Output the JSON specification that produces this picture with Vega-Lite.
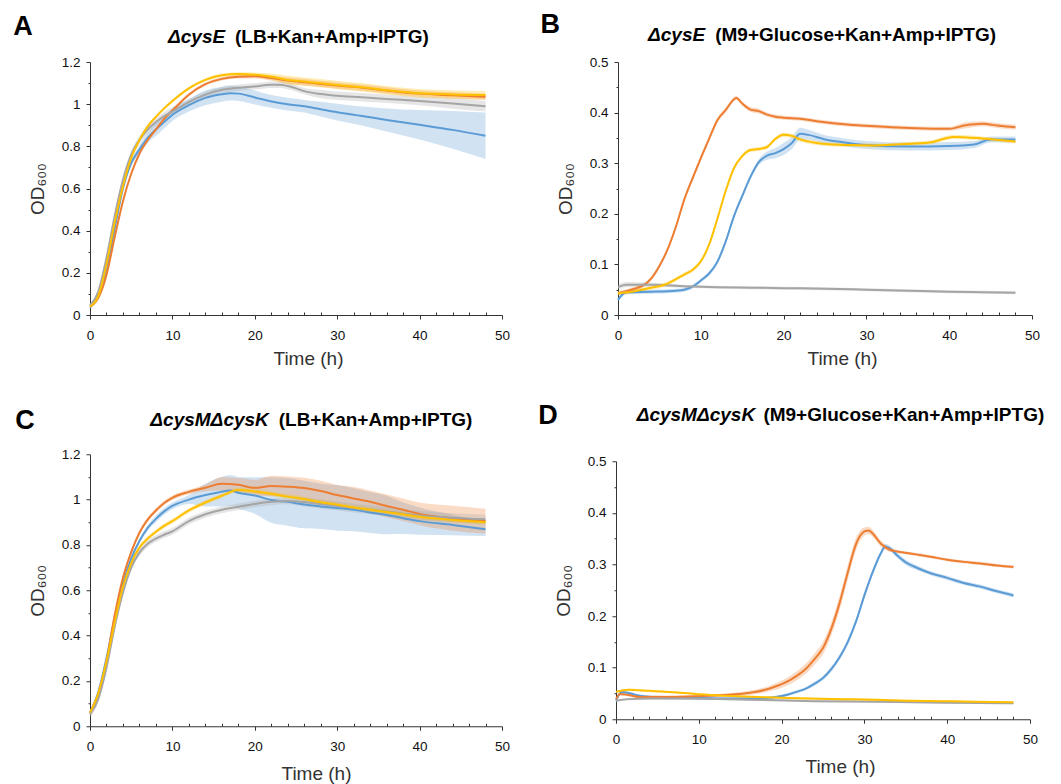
{
  "$schema": "https://vega.github.io/schema/vega-lite/v6.json",
  "background": "white",
  "padding": {"left": 13, "top": 11, "right": 0, "bottom": 0},
  "config": {
    "view": {"stroke": null},
    "font": "Liberation Sans",
    "axis": {
      "grid": false,
      "domainColor": "#333333",
      "tickColor": "#333333",
      "labelColor": "#111111",
      "labelFont": "Liberation Sans",
      "labelFontSize": 13.5,
      "titleFont": "Liberation Sans",
      "titleFontSize": 19,
      "titleFontWeight": "normal",
      "titleColor": "#333333",
      "labelOverlap": false
    },
    "axisX": {"labelPadding": 9, "titlePadding": 8, "labelFlush": false},
    "axisY": {"labelPadding": 6, "titlePadding": 14}
  },
  "datasets": {
    "A": [
      {"s":"S1","t":0,"v":0.035,"e":0.005},{"s":"S1","t":1,"v":0.09,"e":0.008},{"s":"S1","t":2,"v":0.22,"e":0.01},{"s":"S1","t":3,"v":0.41,"e":0.01},{"s":"S1","t":4,"v":0.6,"e":0.012},{"s":"S1","t":5,"v":0.72,"e":0.015},{"s":"S1","t":6,"v":0.785,"e":0.02},{"s":"S1","t":7,"v":0.84,"e":0.025},{"s":"S1","t":8,"v":0.88,"e":0.03},{"s":"S1","t":9,"v":0.915,"e":0.03},{"s":"S1","t":10,"v":0.95,"e":0.03},{"s":"S1","t":12,"v":0.995,"e":0.03},{"s":"S1","t":14,"v":1.03,"e":0.035},{"s":"S1","t":16,"v":1.047,"e":0.035},{"s":"S1","t":17,"v":1.052,"e":0.035},{"s":"S1","t":18,"v":1.05,"e":0.035},{"s":"S1","t":20,"v":1.032,"e":0.033},{"s":"S1","t":22,"v":1.013,"e":0.03},{"s":"S1","t":24,"v":1.0,"e":0.03},{"s":"S1","t":26,"v":0.99,"e":0.03},{"s":"S1","t":28,"v":0.976,"e":0.035},{"s":"S1","t":30,"v":0.962,"e":0.04},{"s":"S1","t":33,"v":0.944,"e":0.045},{"s":"S1","t":36,"v":0.925,"e":0.055},{"s":"S1","t":40,"v":0.902,"e":0.07},{"s":"S1","t":44,"v":0.878,"e":0.09},{"s":"S1","t":48,"v":0.85,"e":0.11},
      {"s":"S2","t":0,"v":0.04,"e":0.005},{"s":"S2","t":1,"v":0.08,"e":0.006},{"s":"S2","t":2,"v":0.19,"e":0.008},{"s":"S2","t":3,"v":0.37,"e":0.008},{"s":"S2","t":4,"v":0.54,"e":0.008},{"s":"S2","t":5,"v":0.67,"e":0.008},{"s":"S2","t":6,"v":0.765,"e":0.008},{"s":"S2","t":7,"v":0.83,"e":0.008},{"s":"S2","t":8,"v":0.88,"e":0.008},{"s":"S2","t":9,"v":0.93,"e":0.008},{"s":"S2","t":10,"v":0.97,"e":0.008},{"s":"S2","t":12,"v":1.045,"e":0.008},{"s":"S2","t":14,"v":1.095,"e":0.008},{"s":"S2","t":16,"v":1.12,"e":0.008},{"s":"S2","t":18,"v":1.13,"e":0.008},{"s":"S2","t":20,"v":1.132,"e":0.01},{"s":"S2","t":22,"v":1.124,"e":0.012},{"s":"S2","t":24,"v":1.112,"e":0.015},{"s":"S2","t":26,"v":1.104,"e":0.015},{"s":"S2","t":28,"v":1.096,"e":0.015},{"s":"S2","t":30,"v":1.088,"e":0.015},{"s":"S2","t":33,"v":1.078,"e":0.015},{"s":"S2","t":36,"v":1.065,"e":0.015},{"s":"S2","t":40,"v":1.05,"e":0.015},{"s":"S2","t":44,"v":1.042,"e":0.015},{"s":"S2","t":48,"v":1.035,"e":0.015},
      {"s":"S3","t":0,"v":0.045,"e":0.01},{"s":"S3","t":1,"v":0.11,"e":0.015},{"s":"S3","t":2,"v":0.27,"e":0.02},{"s":"S3","t":3,"v":0.47,"e":0.02},{"s":"S3","t":4,"v":0.64,"e":0.02},{"s":"S3","t":5,"v":0.76,"e":0.02},{"s":"S3","t":6,"v":0.83,"e":0.02},{"s":"S3","t":7,"v":0.88,"e":0.02},{"s":"S3","t":8,"v":0.915,"e":0.02},{"s":"S3","t":9,"v":0.943,"e":0.02},{"s":"S3","t":10,"v":0.965,"e":0.02},{"s":"S3","t":12,"v":1.01,"e":0.015},{"s":"S3","t":14,"v":1.045,"e":0.015},{"s":"S3","t":16,"v":1.068,"e":0.015},{"s":"S3","t":18,"v":1.078,"e":0.015},{"s":"S3","t":20,"v":1.084,"e":0.015},{"s":"S3","t":22,"v":1.092,"e":0.015},{"s":"S3","t":23,"v":1.092,"e":0.015},{"s":"S3","t":24,"v":1.086,"e":0.015},{"s":"S3","t":25,"v":1.075,"e":0.015},{"s":"S3","t":26,"v":1.062,"e":0.015},{"s":"S3","t":28,"v":1.048,"e":0.02},{"s":"S3","t":30,"v":1.04,"e":0.02},{"s":"S3","t":33,"v":1.033,"e":0.02},{"s":"S3","t":36,"v":1.025,"e":0.02},{"s":"S3","t":40,"v":1.015,"e":0.02},{"s":"S3","t":44,"v":1.003,"e":0.025},{"s":"S3","t":48,"v":0.99,"e":0.025},
      {"s":"S4","t":0,"v":0.04,"e":0.005},{"s":"S4","t":1,"v":0.09,"e":0.006},{"s":"S4","t":2,"v":0.24,"e":0.008},{"s":"S4","t":3,"v":0.44,"e":0.008},{"s":"S4","t":4,"v":0.61,"e":0.008},{"s":"S4","t":5,"v":0.745,"e":0.008},{"s":"S4","t":6,"v":0.83,"e":0.008},{"s":"S4","t":7,"v":0.895,"e":0.008},{"s":"S4","t":8,"v":0.94,"e":0.008},{"s":"S4","t":9,"v":0.98,"e":0.008},{"s":"S4","t":10,"v":1.015,"e":0.008},{"s":"S4","t":12,"v":1.075,"e":0.008},{"s":"S4","t":14,"v":1.115,"e":0.008},{"s":"S4","t":16,"v":1.137,"e":0.008},{"s":"S4","t":18,"v":1.143,"e":0.008},{"s":"S4","t":20,"v":1.14,"e":0.01},{"s":"S4","t":22,"v":1.13,"e":0.015},{"s":"S4","t":24,"v":1.115,"e":0.02},{"s":"S4","t":26,"v":1.107,"e":0.02},{"s":"S4","t":28,"v":1.099,"e":0.02},{"s":"S4","t":30,"v":1.091,"e":0.02},{"s":"S4","t":33,"v":1.08,"e":0.02},{"s":"S4","t":36,"v":1.066,"e":0.02},{"s":"S4","t":40,"v":1.052,"e":0.02},{"s":"S4","t":44,"v":1.046,"e":0.02},{"s":"S4","t":48,"v":1.043,"e":0.02}
    ],
    "B": [
      {"s":"S1","t":0,"v":0.03,"e":0.004},{"s":"S1","t":1,"v":0.045,"e":0.004},{"s":"S1","t":4,"v":0.046,"e":0.004},{"s":"S1","t":7,"v":0.048,"e":0.004},{"s":"S1","t":8,"v":0.05,"e":0.004},{"s":"S1","t":9,"v":0.056,"e":0.004},{"s":"S1","t":10,"v":0.068,"e":0.004},{"s":"S1","t":11,"v":0.082,"e":0.004},{"s":"S1","t":12,"v":0.105,"e":0.005},{"s":"S1","t":13,"v":0.145,"e":0.005},{"s":"S1","t":14,"v":0.195,"e":0.005},{"s":"S1","t":15,"v":0.235,"e":0.005},{"s":"S1","t":16,"v":0.273,"e":0.005},{"s":"S1","t":17,"v":0.302,"e":0.006},{"s":"S1","t":18,"v":0.315,"e":0.008},{"s":"S1","t":19,"v":0.32,"e":0.01},{"s":"S1","t":20,"v":0.328,"e":0.012},{"s":"S1","t":21,"v":0.34,"e":0.012},{"s":"S1","t":22,"v":0.358,"e":0.012},{"s":"S1","t":23,"v":0.356,"e":0.01},{"s":"S1","t":25,"v":0.347,"e":0.008},{"s":"S1","t":27,"v":0.342,"e":0.008},{"s":"S1","t":30,"v":0.336,"e":0.008},{"s":"S1","t":35,"v":0.333,"e":0.008},{"s":"S1","t":40,"v":0.334,"e":0.008},{"s":"S1","t":43,"v":0.337,"e":0.007},{"s":"S1","t":45,"v":0.347,"e":0.006},{"s":"S1","t":48,"v":0.347,"e":0.006},
      {"s":"S2","t":0,"v":0.043,"e":0.004},{"s":"S2","t":1,"v":0.047,"e":0.004},{"s":"S2","t":2,"v":0.052,"e":0.004},{"s":"S2","t":3,"v":0.058,"e":0.004},{"s":"S2","t":4,"v":0.072,"e":0.004},{"s":"S2","t":5,"v":0.097,"e":0.004},{"s":"S2","t":6,"v":0.13,"e":0.004},{"s":"S2","t":7,"v":0.175,"e":0.004},{"s":"S2","t":8,"v":0.228,"e":0.004},{"s":"S2","t":9,"v":0.27,"e":0.005},{"s":"S2","t":10,"v":0.31,"e":0.005},{"s":"S2","t":11,"v":0.348,"e":0.005},{"s":"S2","t":12,"v":0.385,"e":0.005},{"s":"S2","t":13,"v":0.405,"e":0.005},{"s":"S2","t":14.3,"v":0.429,"e":0.004},{"s":"S2","t":15,"v":0.418,"e":0.004},{"s":"S2","t":16,"v":0.406,"e":0.005},{"s":"S2","t":17,"v":0.403,"e":0.005},{"s":"S2","t":18,"v":0.396,"e":0.004},{"s":"S2","t":19,"v":0.392,"e":0.004},{"s":"S2","t":20,"v":0.39,"e":0.004},{"s":"S2","t":22,"v":0.388,"e":0.004},{"s":"S2","t":24,"v":0.383,"e":0.004},{"s":"S2","t":26,"v":0.379,"e":0.004},{"s":"S2","t":28,"v":0.376,"e":0.004},{"s":"S2","t":30,"v":0.374,"e":0.004},{"s":"S2","t":33,"v":0.371,"e":0.004},{"s":"S2","t":36,"v":0.369,"e":0.004},{"s":"S2","t":40,"v":0.368,"e":0.004},{"s":"S2","t":42,"v":0.375,"e":0.006},{"s":"S2","t":44,"v":0.378,"e":0.005},{"s":"S2","t":46,"v":0.374,"e":0.005},{"s":"S2","t":48,"v":0.371,"e":0.005},
      {"s":"S3","t":0,"v":0.055,"e":0.005},{"s":"S3","t":1,"v":0.06,"e":0.005},{"s":"S3","t":4,"v":0.06,"e":0.004},{"s":"S3","t":8,"v":0.057,"e":0.003},{"s":"S3","t":12,"v":0.055,"e":0.003},{"s":"S3","t":16,"v":0.054,"e":0.003},{"s":"S3","t":20,"v":0.053,"e":0.003},{"s":"S3","t":25,"v":0.052,"e":0.003},{"s":"S3","t":30,"v":0.05,"e":0.003},{"s":"S3","t":35,"v":0.048,"e":0.003},{"s":"S3","t":40,"v":0.046,"e":0.003},{"s":"S3","t":44,"v":0.045,"e":0.003},{"s":"S3","t":48,"v":0.044,"e":0.003},
      {"s":"S4","t":0,"v":0.043,"e":0.004},{"s":"S4","t":2,"v":0.047,"e":0.004},{"s":"S4","t":4,"v":0.054,"e":0.004},{"s":"S4","t":6,"v":0.062,"e":0.004},{"s":"S4","t":7,"v":0.071,"e":0.004},{"s":"S4","t":8,"v":0.08,"e":0.004},{"s":"S4","t":9,"v":0.089,"e":0.004},{"s":"S4","t":10,"v":0.106,"e":0.004},{"s":"S4","t":11,"v":0.139,"e":0.004},{"s":"S4","t":12,"v":0.19,"e":0.004},{"s":"S4","t":13,"v":0.245,"e":0.004},{"s":"S4","t":14,"v":0.29,"e":0.004},{"s":"S4","t":15,"v":0.314,"e":0.004},{"s":"S4","t":16,"v":0.326,"e":0.004},{"s":"S4","t":17,"v":0.328,"e":0.004},{"s":"S4","t":18,"v":0.332,"e":0.004},{"s":"S4","t":19,"v":0.348,"e":0.004},{"s":"S4","t":20,"v":0.356,"e":0.004},{"s":"S4","t":21,"v":0.354,"e":0.004},{"s":"S4","t":22,"v":0.347,"e":0.004},{"s":"S4","t":24,"v":0.34,"e":0.004},{"s":"S4","t":26,"v":0.337,"e":0.004},{"s":"S4","t":28,"v":0.336,"e":0.004},{"s":"S4","t":31,"v":0.335,"e":0.004},{"s":"S4","t":35,"v":0.338,"e":0.004},{"s":"S4","t":38,"v":0.342,"e":0.004},{"s":"S4","t":40.5,"v":0.352,"e":0.004},{"s":"S4","t":44,"v":0.349,"e":0.004},{"s":"S4","t":48,"v":0.343,"e":0.004}
    ],
    "C": [
      {"s":"S1","t":0,"v":0.06,"e":0.01},{"s":"S1","t":1,"v":0.15,"e":0.01},{"s":"S1","t":2,"v":0.3,"e":0.01},{"s":"S1","t":3,"v":0.48,"e":0.01},{"s":"S1","t":4,"v":0.63,"e":0.01},{"s":"S1","t":5,"v":0.74,"e":0.01},{"s":"S1","t":6,"v":0.817,"e":0.01},{"s":"S1","t":7,"v":0.875,"e":0.012},{"s":"S1","t":8,"v":0.915,"e":0.015},{"s":"S1","t":9,"v":0.948,"e":0.015},{"s":"S1","t":10,"v":0.972,"e":0.015},{"s":"S1","t":12,"v":1.0,"e":0.02},{"s":"S1","t":14,"v":1.02,"e":0.05},{"s":"S1","t":16,"v":1.035,"e":0.065},{"s":"S1","t":17,"v":1.04,"e":0.068},{"s":"S1","t":18,"v":1.03,"e":0.07},{"s":"S1","t":20,"v":1.018,"e":0.08},{"s":"S1","t":22,"v":0.998,"e":0.1},{"s":"S1","t":24,"v":0.99,"e":0.105},{"s":"S1","t":26,"v":0.978,"e":0.105},{"s":"S1","t":28,"v":0.97,"e":0.1},{"s":"S1","t":30,"v":0.963,"e":0.1},{"s":"S1","t":32,"v":0.955,"e":0.095},{"s":"S1","t":34,"v":0.943,"e":0.09},{"s":"S1","t":36,"v":0.932,"e":0.085},{"s":"S1","t":38,"v":0.918,"e":0.07},{"s":"S1","t":40,"v":0.905,"e":0.06},{"s":"S1","t":44,"v":0.888,"e":0.045},{"s":"S1","t":48,"v":0.869,"e":0.03},
      {"s":"S2","t":0,"v":0.059,"e":0.01},{"s":"S2","t":1,"v":0.14,"e":0.01},{"s":"S2","t":2,"v":0.287,"e":0.01},{"s":"S2","t":3,"v":0.49,"e":0.01},{"s":"S2","t":4,"v":0.655,"e":0.01},{"s":"S2","t":5,"v":0.768,"e":0.01},{"s":"S2","t":6,"v":0.854,"e":0.01},{"s":"S2","t":7,"v":0.912,"e":0.01},{"s":"S2","t":8,"v":0.952,"e":0.01},{"s":"S2","t":9,"v":0.985,"e":0.01},{"s":"S2","t":10,"v":1.008,"e":0.01},{"s":"S2","t":12,"v":1.034,"e":0.01},{"s":"S2","t":14,"v":1.052,"e":0.015},{"s":"S2","t":16,"v":1.07,"e":0.03},{"s":"S2","t":18,"v":1.065,"e":0.03},{"s":"S2","t":20,"v":1.052,"e":0.035},{"s":"S2","t":22,"v":1.06,"e":0.045},{"s":"S2","t":24,"v":1.057,"e":0.045},{"s":"S2","t":26,"v":1.051,"e":0.045},{"s":"S2","t":28,"v":1.038,"e":0.045},{"s":"S2","t":30,"v":1.02,"e":0.045},{"s":"S2","t":32,"v":1.005,"e":0.05},{"s":"S2","t":34,"v":0.99,"e":0.05},{"s":"S2","t":36,"v":0.972,"e":0.05},{"s":"S2","t":38,"v":0.955,"e":0.05},{"s":"S2","t":40,"v":0.937,"e":0.05},{"s":"S2","t":44,"v":0.918,"e":0.055},{"s":"S2","t":48,"v":0.905,"e":0.055},
      {"s":"S3","t":0,"v":0.052,"e":0.015},{"s":"S3","t":1,"v":0.12,"e":0.015},{"s":"S3","t":2,"v":0.258,"e":0.015},{"s":"S3","t":3,"v":0.44,"e":0.015},{"s":"S3","t":4,"v":0.59,"e":0.015},{"s":"S3","t":5,"v":0.7,"e":0.015},{"s":"S3","t":6,"v":0.766,"e":0.015},{"s":"S3","t":7,"v":0.805,"e":0.015},{"s":"S3","t":8,"v":0.828,"e":0.015},{"s":"S3","t":9,"v":0.845,"e":0.015},{"s":"S3","t":10,"v":0.86,"e":0.015},{"s":"S3","t":12,"v":0.905,"e":0.015},{"s":"S3","t":14,"v":0.935,"e":0.015},{"s":"S3","t":16,"v":0.955,"e":0.015},{"s":"S3","t":18,"v":0.968,"e":0.015},{"s":"S3","t":20,"v":0.981,"e":0.015},{"s":"S3","t":22,"v":0.99,"e":0.015},{"s":"S3","t":24,"v":0.994,"e":0.015},{"s":"S3","t":26,"v":0.989,"e":0.02},{"s":"S3","t":28,"v":0.98,"e":0.02},{"s":"S3","t":30,"v":0.972,"e":0.02},{"s":"S3","t":32,"v":0.963,"e":0.02},{"s":"S3","t":34,"v":0.955,"e":0.02},{"s":"S3","t":36,"v":0.948,"e":0.02},{"s":"S3","t":38,"v":0.938,"e":0.02},{"s":"S3","t":40,"v":0.93,"e":0.02},{"s":"S3","t":44,"v":0.92,"e":0.02},{"s":"S3","t":48,"v":0.913,"e":0.02},
      {"s":"S4","t":0,"v":0.06,"e":0.01},{"s":"S4","t":1,"v":0.145,"e":0.01},{"s":"S4","t":2,"v":0.287,"e":0.01},{"s":"S4","t":3,"v":0.46,"e":0.01},{"s":"S4","t":4,"v":0.615,"e":0.01},{"s":"S4","t":5,"v":0.72,"e":0.01},{"s":"S4","t":6,"v":0.788,"e":0.01},{"s":"S4","t":7,"v":0.828,"e":0.01},{"s":"S4","t":8,"v":0.858,"e":0.01},{"s":"S4","t":9,"v":0.884,"e":0.01},{"s":"S4","t":10,"v":0.905,"e":0.01},{"s":"S4","t":12,"v":0.952,"e":0.01},{"s":"S4","t":14,"v":0.987,"e":0.01},{"s":"S4","t":16,"v":1.017,"e":0.01},{"s":"S4","t":18,"v":1.042,"e":0.01},{"s":"S4","t":20,"v":1.036,"e":0.01},{"s":"S4","t":22,"v":1.026,"e":0.01},{"s":"S4","t":24,"v":1.013,"e":0.01},{"s":"S4","t":26,"v":1.003,"e":0.01},{"s":"S4","t":28,"v":0.988,"e":0.01},{"s":"S4","t":30,"v":0.977,"e":0.01},{"s":"S4","t":32,"v":0.965,"e":0.01},{"s":"S4","t":34,"v":0.955,"e":0.01},{"s":"S4","t":36,"v":0.945,"e":0.01},{"s":"S4","t":38,"v":0.935,"e":0.01},{"s":"S4","t":40,"v":0.924,"e":0.01},{"s":"S4","t":44,"v":0.91,"e":0.01},{"s":"S4","t":48,"v":0.9,"e":0.01}
    ],
    "D": [
      {"s":"S1","t":0,"v":0.036,"e":0.003},{"s":"S1","t":0.7,"v":0.053,"e":0.003},{"s":"S1","t":1.5,"v":0.051,"e":0.003},{"s":"S1","t":3,"v":0.045,"e":0.003},{"s":"S1","t":6,"v":0.042,"e":0.003},{"s":"S1","t":10,"v":0.041,"e":0.003},{"s":"S1","t":14,"v":0.04,"e":0.003},{"s":"S1","t":18,"v":0.041,"e":0.003},{"s":"S1","t":20,"v":0.045,"e":0.003},{"s":"S1","t":21,"v":0.049,"e":0.003},{"s":"S1","t":22,"v":0.054,"e":0.003},{"s":"S1","t":23,"v":0.06,"e":0.003},{"s":"S1","t":24,"v":0.069,"e":0.004},{"s":"S1","t":25,"v":0.08,"e":0.004},{"s":"S1","t":26,"v":0.097,"e":0.005},{"s":"S1","t":27,"v":0.12,"e":0.005},{"s":"S1","t":28,"v":0.15,"e":0.006},{"s":"S1","t":29,"v":0.19,"e":0.006},{"s":"S1","t":30,"v":0.24,"e":0.006},{"s":"S1","t":31,"v":0.285,"e":0.006},{"s":"S1","t":32,"v":0.322,"e":0.005},{"s":"S1","t":32.5,"v":0.335,"e":0.005},{"s":"S1","t":33,"v":0.332,"e":0.005},{"s":"S1","t":34,"v":0.317,"e":0.005},{"s":"S1","t":35,"v":0.304,"e":0.005},{"s":"S1","t":36,"v":0.296,"e":0.005},{"s":"S1","t":38,"v":0.283,"e":0.004},{"s":"S1","t":40,"v":0.274,"e":0.004},{"s":"S1","t":42,"v":0.264,"e":0.004},{"s":"S1","t":44,"v":0.257,"e":0.004},{"s":"S1","t":46,"v":0.248,"e":0.004},{"s":"S1","t":48,"v":0.24,"e":0.004},
      {"s":"S2","t":0,"v":0.039,"e":0.003},{"s":"S2","t":0.5,"v":0.049,"e":0.003},{"s":"S2","t":1.5,"v":0.047,"e":0.003},{"s":"S2","t":3,"v":0.043,"e":0.003},{"s":"S2","t":6,"v":0.043,"e":0.003},{"s":"S2","t":9,"v":0.044,"e":0.003},{"s":"S2","t":12,"v":0.046,"e":0.003},{"s":"S2","t":14,"v":0.048,"e":0.003},{"s":"S2","t":16,"v":0.051,"e":0.004},{"s":"S2","t":18,"v":0.057,"e":0.005},{"s":"S2","t":19,"v":0.062,"e":0.006},{"s":"S2","t":20,"v":0.068,"e":0.007},{"s":"S2","t":21,"v":0.076,"e":0.008},{"s":"S2","t":22,"v":0.086,"e":0.009},{"s":"S2","t":23,"v":0.099,"e":0.01},{"s":"S2","t":24,"v":0.117,"e":0.011},{"s":"S2","t":25,"v":0.138,"e":0.012},{"s":"S2","t":26,"v":0.175,"e":0.013},{"s":"S2","t":27,"v":0.225,"e":0.014},{"s":"S2","t":28,"v":0.285,"e":0.014},{"s":"S2","t":29,"v":0.34,"e":0.012},{"s":"S2","t":30,"v":0.364,"e":0.008},{"s":"S2","t":30.5,"v":0.366,"e":0.007},{"s":"S2","t":31,"v":0.36,"e":0.007},{"s":"S2","t":32,"v":0.34,"e":0.006},{"s":"S2","t":33,"v":0.329,"e":0.004},{"s":"S2","t":34,"v":0.325,"e":0.003},{"s":"S2","t":36,"v":0.32,"e":0.003},{"s":"S2","t":38,"v":0.315,"e":0.003},{"s":"S2","t":40,"v":0.309,"e":0.003},{"s":"S2","t":42,"v":0.305,"e":0.003},{"s":"S2","t":44,"v":0.302,"e":0.003},{"s":"S2","t":46,"v":0.298,"e":0.003},{"s":"S2","t":48,"v":0.295,"e":0.003},
      {"s":"S3","t":0,"v":0.036,"e":0.002},{"s":"S3","t":1.5,"v":0.039,"e":0.002},{"s":"S3","t":4,"v":0.04,"e":0.002},{"s":"S3","t":8,"v":0.04,"e":0.002},{"s":"S3","t":16,"v":0.038,"e":0.002},{"s":"S3","t":24,"v":0.035,"e":0.002},{"s":"S3","t":32,"v":0.034,"e":0.002},{"s":"S3","t":40,"v":0.032,"e":0.002},{"s":"S3","t":48,"v":0.031,"e":0.002},
      {"s":"S4","t":0,"v":0.053,"e":0.002},{"s":"S4","t":1.5,"v":0.057,"e":0.002},{"s":"S4","t":4,"v":0.055,"e":0.002},{"s":"S4","t":7.4,"v":0.052,"e":0.002},{"s":"S4","t":11.4,"v":0.047,"e":0.002},{"s":"S4","t":15.4,"v":0.044,"e":0.002},{"s":"S4","t":19.3,"v":0.042,"e":0.002},{"s":"S4","t":23.3,"v":0.04,"e":0.002},{"s":"S4","t":27.2,"v":0.039,"e":0.002},{"s":"S4","t":31.1,"v":0.038,"e":0.002},{"s":"S4","t":35.1,"v":0.036,"e":0.002},{"s":"S4","t":39.1,"v":0.035,"e":0.002},{"s":"S4","t":43.1,"v":0.034,"e":0.002},{"s":"S4","t":48,"v":0.033,"e":0.002}
    ],
    "labels": [
      {"p":"A","letter":"A","gene":"ΔcysE","medium":"(LB+Kan+Amp+IPTG)"},
      {"p":"B","letter":"B","gene":"ΔcysE","medium":"(M9+Glucose+Kan+Amp+IPTG)"},
      {"p":"C","letter":"C","gene":"ΔcysMΔcysK","medium":"(LB+Kan+Amp+IPTG)"},
      {"p":"D","letter":"D","gene":"ΔcysMΔcysK","medium":"(M9+Glucose+Kan+Amp+IPTG)"}
    ]
  },
  "spacing": 32,
  "vconcat": [
    {
      "spacing": 30,
      "hconcat": [
        {
          "width": 412, "height": 253,
          "layer": [
            {"data": {"name": "A"},
             "mark": {"type": "errorband", "interpolate": "monotone", "band": {"opacity": 0.28}},
             "encoding": {
               "x": {"field": "t", "type": "quantitative", "scale": {"domain": [0, 50], "nice": false, "zero": false},
                     "axis": {"title": "Time (h)", "titleX": 218, "tickCount": 100, "labelOverlap": false, "values": [0,2,4,6,8,10,12,14,16,18,20,22,24,26,28,30,32,34,36,38,40,42,44,46,48,50], "labelExpr": "datum.value % 10 === 0 ? format(datum.value, 'd') : ''", "tickSize": {"condition": {"test": "datum.value % 10 === 0", "value": 4}, "value": -3}}},
               "y": {"field": "v", "type": "quantitative", "scale": {"domain": [0, 1.2], "nice": false},
                     "axis": {"title": "OD₆₀₀", "tickCount": 100, "labelOverlap": false, "values": [0,0.1,0.2,0.3,0.4,0.5,0.6,0.7,0.8,0.9,1,1.1,1.2], "labelExpr": "round(datum.value*10) % 2 === 0 ? format(datum.value, '~g') : ''", "tickSize": {"condition": {"test": "round(datum.value*10) % 2 === 0", "value": 4}, "value": 2}}},
               "yError": {"field": "e"},
               "color": {"field": "s", "type": "nominal", "scale": {"domain": ["S1","S2","S3","S4"], "range": ["#5B9BD5","#ED7D31","#A5A5A5","#FFC000"]}, "legend": null}
             }},
            {"data": {"name": "A"},
             "mark": {"type": "line", "strokeWidth": 2, "interpolate": "monotone"},
             "encoding": {
               "x": {"field": "t", "type": "quantitative", "scale": {"domain": [0, 50], "nice": false, "zero": false},
                     "axis": {"title": "Time (h)", "titleX": 218, "tickCount": 100, "labelOverlap": false, "values": [0,2,4,6,8,10,12,14,16,18,20,22,24,26,28,30,32,34,36,38,40,42,44,46,48,50], "labelExpr": "datum.value % 10 === 0 ? format(datum.value, 'd') : ''", "tickSize": {"condition": {"test": "datum.value % 10 === 0", "value": 4}, "value": -3}}},
               "y": {"field": "v", "type": "quantitative", "scale": {"domain": [0, 1.2], "nice": false},
                     "axis": {"title": "OD₆₀₀", "tickCount": 100, "labelOverlap": false, "values": [0,0.1,0.2,0.3,0.4,0.5,0.6,0.7,0.8,0.9,1,1.1,1.2], "labelExpr": "round(datum.value*10) % 2 === 0 ? format(datum.value, '~g') : ''", "tickSize": {"condition": {"test": "round(datum.value*10) % 2 === 0", "value": 4}, "value": 2}}},
               "color": {"field": "s", "type": "nominal", "scale": {"domain": ["S1","S2","S3","S4"], "range": ["#5B9BD5","#ED7D31","#A5A5A5","#FFC000"]}, "legend": null}
             }},
            {"data": {"name": "labels"}, "transform": [{"filter": "datum.p === 'A'"}],
             "mark": {"type": "text", "fontSize": 27, "fontWeight": "bold", "align": "left", "baseline": "alphabetic", "color": "black"},
             "encoding": {"x": {"datum": -9.3, "type": "quantitative", "scale": {"domain": [0, 50], "nice": false, "zero": false}}, "y": {"datum": 1.327, "type": "quantitative", "scale": {"domain": [0, 1.2], "nice": false}}, "text": {"field": "letter", "type": "nominal"}}},
            {"data": {"name": "labels"}, "transform": [{"filter": "datum.p === 'A'"}],
             "mark": {"type": "text", "fontSize": 19, "fontWeight": "bold", "fontStyle": "italic", "align": "right", "baseline": "alphabetic", "color": "black"},
             "encoding": {"x": {"datum": 16.4, "type": "quantitative", "scale": {"domain": [0, 50], "nice": false, "zero": false}}, "y": {"datum": 1.29, "type": "quantitative", "scale": {"domain": [0, 1.2], "nice": false}}, "text": {"field": "gene", "type": "nominal"}}},
            {"data": {"name": "labels"}, "transform": [{"filter": "datum.p === 'A'"}],
             "mark": {"type": "text", "fontSize": 19, "fontWeight": "bold", "align": "left", "baseline": "alphabetic", "color": "black"},
             "encoding": {"x": {"datum": 17.6, "type": "quantitative", "scale": {"domain": [0, 50], "nice": false, "zero": false}}, "y": {"datum": 1.29, "type": "quantitative", "scale": {"domain": [0, 1.2], "nice": false}}, "text": {"field": "medium", "type": "nominal"}}}
          ]
        },
        {
          "width": 414, "height": 253,
          "layer": [
            {"data": {"name": "B"},
             "mark": {"type": "errorband", "interpolate": "monotone", "band": {"opacity": 0.28}},
             "encoding": {
               "x": {"field": "t", "type": "quantitative", "scale": {"domain": [0, 50], "nice": false, "zero": false},
                     "axis": {"title": "Time (h)", "titleX": 224, "tickCount": 100, "labelOverlap": false, "values": [0,2,4,6,8,10,12,14,16,18,20,22,24,26,28,30,32,34,36,38,40,42,44,46,48,50], "labelExpr": "datum.value % 10 === 0 ? format(datum.value, 'd') : ''", "tickSize": {"condition": {"test": "datum.value % 10 === 0", "value": 4}, "value": -3}}},
               "y": {"field": "v", "type": "quantitative", "scale": {"domain": [0, 0.5], "nice": false},
                     "axis": {"title": "OD₆₀₀", "tickCount": 100, "labelOverlap": false, "values": [0,0.05,0.1,0.15,0.2,0.25,0.3,0.35,0.4,0.45,0.5], "labelExpr": "round(datum.value*20) % 2 === 0 ? format(datum.value, '~g') : ''", "tickSize": {"condition": {"test": "round(datum.value*20) % 2 === 0", "value": 4}, "value": 2}}},
               "yError": {"field": "e"},
               "color": {"field": "s", "type": "nominal", "scale": {"domain": ["S1","S2","S3","S4"], "range": ["#5B9BD5","#ED7D31","#A5A5A5","#FFC000"]}, "legend": null}
             }},
            {"data": {"name": "B"},
             "mark": {"type": "line", "strokeWidth": 2, "interpolate": "monotone"},
             "encoding": {
               "x": {"field": "t", "type": "quantitative", "scale": {"domain": [0, 50], "nice": false, "zero": false},
                     "axis": {"title": "Time (h)", "titleX": 224, "tickCount": 100, "labelOverlap": false, "values": [0,2,4,6,8,10,12,14,16,18,20,22,24,26,28,30,32,34,36,38,40,42,44,46,48,50], "labelExpr": "datum.value % 10 === 0 ? format(datum.value, 'd') : ''", "tickSize": {"condition": {"test": "datum.value % 10 === 0", "value": 4}, "value": -3}}},
               "y": {"field": "v", "type": "quantitative", "scale": {"domain": [0, 0.5], "nice": false},
                     "axis": {"title": "OD₆₀₀", "tickCount": 100, "labelOverlap": false, "values": [0,0.05,0.1,0.15,0.2,0.25,0.3,0.35,0.4,0.45,0.5], "labelExpr": "round(datum.value*20) % 2 === 0 ? format(datum.value, '~g') : ''", "tickSize": {"condition": {"test": "round(datum.value*20) % 2 === 0", "value": 4}, "value": 2}}},
               "color": {"field": "s", "type": "nominal", "scale": {"domain": ["S1","S2","S3","S4"], "range": ["#5B9BD5","#ED7D31","#A5A5A5","#FFC000"]}, "legend": null}
             }},
            {"data": {"name": "labels"}, "transform": [{"filter": "datum.p === 'B'"}],
             "mark": {"type": "text", "fontSize": 27, "fontWeight": "bold", "align": "left", "baseline": "alphabetic", "color": "black"},
             "encoding": {"x": {"datum": -9.37, "type": "quantitative", "scale": {"domain": [0, 50], "nice": false, "zero": false}}, "y": {"datum": 0.557, "type": "quantitative", "scale": {"domain": [0, 0.5], "nice": false}}, "text": {"field": "letter", "type": "nominal"}}},
            {"data": {"name": "labels"}, "transform": [{"filter": "datum.p === 'B'"}],
             "mark": {"type": "text", "fontSize": 19, "fontWeight": "bold", "fontStyle": "italic", "align": "right", "baseline": "alphabetic", "color": "black"},
             "encoding": {"x": {"datum": 10.53, "type": "quantitative", "scale": {"domain": [0, 50], "nice": false, "zero": false}}, "y": {"datum": 0.5406, "type": "quantitative", "scale": {"domain": [0, 0.5], "nice": false}}, "text": {"field": "gene", "type": "nominal"}}},
            {"data": {"name": "labels"}, "transform": [{"filter": "datum.p === 'B'"}],
             "mark": {"type": "text", "fontSize": 19, "fontWeight": "bold", "align": "left", "baseline": "alphabetic", "color": "black"},
             "encoding": {"x": {"datum": 11.74, "type": "quantitative", "scale": {"domain": [0, 50], "nice": false, "zero": false}}, "y": {"datum": 0.5406, "type": "quantitative", "scale": {"domain": [0, 0.5], "nice": false}}, "text": {"field": "medium", "type": "nominal"}}}
          ]
        }
      ]
    },
    {
      "spacing": 28,
      "center": true,
      "hconcat": [
        {
          "width": 412, "height": 272,
          "layer": [
            {"data": {"name": "C"},
             "mark": {"type": "errorband", "interpolate": "monotone", "band": {"opacity": 0.28}},
             "encoding": {
               "x": {"field": "t", "type": "quantitative", "scale": {"domain": [0, 50], "nice": false, "zero": false},
                     "axis": {"title": "Time (h)", "titleX": 226, "titlePadding": 12, "tickCount": 100, "labelOverlap": false, "values": [0,2,4,6,8,10,12,14,16,18,20,22,24,26,28,30,32,34,36,38,40,42,44,46,48,50], "labelExpr": "datum.value % 10 === 0 ? format(datum.value, 'd') : ''", "tickSize": {"condition": {"test": "datum.value % 10 === 0", "value": 4}, "value": -3}}},
               "y": {"field": "v", "type": "quantitative", "scale": {"domain": [0, 1.2], "nice": false},
                     "axis": {"title": "OD₆₀₀", "tickCount": 100, "labelOverlap": false, "values": [0,0.1,0.2,0.3,0.4,0.5,0.6,0.7,0.8,0.9,1,1.1,1.2], "labelExpr": "round(datum.value*10) % 2 === 0 ? format(datum.value, '~g') : ''", "tickSize": {"condition": {"test": "round(datum.value*10) % 2 === 0", "value": 4}, "value": 2}}},
               "yError": {"field": "e"},
               "color": {"field": "s", "type": "nominal", "scale": {"domain": ["S1","S2","S3","S4"], "range": ["#5B9BD5","#ED7D31","#A5A5A5","#FFC000"]}, "legend": null}
             }},
            {"data": {"name": "C"},
             "mark": {"type": "line", "strokeWidth": 2, "interpolate": "monotone"},
             "encoding": {
               "x": {"field": "t", "type": "quantitative", "scale": {"domain": [0, 50], "nice": false, "zero": false},
                     "axis": {"title": "Time (h)", "titleX": 226, "titlePadding": 12, "tickCount": 100, "labelOverlap": false, "values": [0,2,4,6,8,10,12,14,16,18,20,22,24,26,28,30,32,34,36,38,40,42,44,46,48,50], "labelExpr": "datum.value % 10 === 0 ? format(datum.value, 'd') : ''", "tickSize": {"condition": {"test": "datum.value % 10 === 0", "value": 4}, "value": -3}}},
               "y": {"field": "v", "type": "quantitative", "scale": {"domain": [0, 1.2], "nice": false},
                     "axis": {"title": "OD₆₀₀", "tickCount": 100, "labelOverlap": false, "values": [0,0.1,0.2,0.3,0.4,0.5,0.6,0.7,0.8,0.9,1,1.1,1.2], "labelExpr": "round(datum.value*10) % 2 === 0 ? format(datum.value, '~g') : ''", "tickSize": {"condition": {"test": "round(datum.value*10) % 2 === 0", "value": 4}, "value": 2}}},
               "color": {"field": "s", "type": "nominal", "scale": {"domain": ["S1","S2","S3","S4"], "range": ["#5B9BD5","#ED7D31","#A5A5A5","#FFC000"]}, "legend": null}
             }},
            {"data": {"name": "labels"}, "transform": [{"filter": "datum.p === 'C'"}],
             "mark": {"type": "text", "fontSize": 27, "fontWeight": "bold", "align": "left", "baseline": "alphabetic", "color": "black"},
             "encoding": {"x": {"datum": -9.07, "type": "quantitative", "scale": {"domain": [0, 50], "nice": false, "zero": false}}, "y": {"datum": 1.313, "type": "quantitative", "scale": {"domain": [0, 1.2], "nice": false}}, "text": {"field": "letter", "type": "nominal"}}},
            {"data": {"name": "labels"}, "transform": [{"filter": "datum.p === 'C'"}],
             "mark": {"type": "text", "fontSize": 19, "fontWeight": "bold", "fontStyle": "italic", "align": "right", "baseline": "alphabetic", "color": "black"},
             "encoding": {"x": {"datum": 21.7, "type": "quantitative", "scale": {"domain": [0, 50], "nice": false, "zero": false}}, "y": {"datum": 1.325, "type": "quantitative", "scale": {"domain": [0, 1.2], "nice": false}}, "text": {"field": "gene", "type": "nominal"}}},
            {"data": {"name": "labels"}, "transform": [{"filter": "datum.p === 'C'"}],
             "mark": {"type": "text", "fontSize": 19, "fontWeight": "bold", "align": "left", "baseline": "alphabetic", "color": "black"},
             "encoding": {"x": {"datum": 22.9, "type": "quantitative", "scale": {"domain": [0, 50], "nice": false, "zero": false}}, "y": {"datum": 1.325, "type": "quantitative", "scale": {"domain": [0, 1.2], "nice": false}}, "text": {"field": "medium", "type": "nominal"}}}
          ]
        },
        {
          "width": 414, "height": 258,
          "layer": [
            {"data": {"name": "D"},
             "mark": {"type": "errorband", "interpolate": "monotone", "band": {"opacity": 0.28}},
             "encoding": {
               "x": {"field": "t", "type": "quantitative", "scale": {"domain": [0, 50], "nice": false, "zero": false},
                     "axis": {"title": "Time (h)", "titleX": 224, "titlePadding": 12, "tickCount": 100, "labelOverlap": false, "values": [0,2,4,6,8,10,12,14,16,18,20,22,24,26,28,30,32,34,36,38,40,42,44,46,48,50], "labelExpr": "datum.value % 10 === 0 ? format(datum.value, 'd') : ''", "tickSize": {"condition": {"test": "datum.value % 10 === 0", "value": 4}, "value": -3}}},
               "y": {"field": "v", "type": "quantitative", "scale": {"domain": [0, 0.5], "nice": false},
                     "axis": {"title": "OD₆₀₀", "tickCount": 100, "labelOverlap": false, "values": [0,0.05,0.1,0.15,0.2,0.25,0.3,0.35,0.4,0.45,0.5], "labelExpr": "round(datum.value*20) % 2 === 0 ? format(datum.value, '~g') : ''", "tickSize": {"condition": {"test": "round(datum.value*20) % 2 === 0", "value": 4}, "value": 2}}},
               "yError": {"field": "e"},
               "color": {"field": "s", "type": "nominal", "scale": {"domain": ["S1","S2","S3","S4"], "range": ["#5B9BD5","#ED7D31","#A5A5A5","#FFC000"]}, "legend": null}
             }},
            {"data": {"name": "D"},
             "mark": {"type": "line", "strokeWidth": 2, "interpolate": "monotone"},
             "encoding": {
               "x": {"field": "t", "type": "quantitative", "scale": {"domain": [0, 50], "nice": false, "zero": false},
                     "axis": {"title": "Time (h)", "titleX": 224, "titlePadding": 12, "tickCount": 100, "labelOverlap": false, "values": [0,2,4,6,8,10,12,14,16,18,20,22,24,26,28,30,32,34,36,38,40,42,44,46,48,50], "labelExpr": "datum.value % 10 === 0 ? format(datum.value, 'd') : ''", "tickSize": {"condition": {"test": "datum.value % 10 === 0", "value": 4}, "value": -3}}},
               "y": {"field": "v", "type": "quantitative", "scale": {"domain": [0, 0.5], "nice": false},
                     "axis": {"title": "OD₆₀₀", "tickCount": 100, "labelOverlap": false, "values": [0,0.05,0.1,0.15,0.2,0.25,0.3,0.35,0.4,0.45,0.5], "labelExpr": "round(datum.value*20) % 2 === 0 ? format(datum.value, '~g') : ''", "tickSize": {"condition": {"test": "round(datum.value*20) % 2 === 0", "value": 4}, "value": 2}}},
               "color": {"field": "s", "type": "nominal", "scale": {"domain": ["S1","S2","S3","S4"], "range": ["#5B9BD5","#ED7D31","#A5A5A5","#FFC000"]}, "legend": null}
             }},
            {"data": {"name": "labels"}, "transform": [{"filter": "datum.p === 'D'"}],
             "mark": {"type": "text", "fontSize": 27, "fontWeight": "bold", "align": "left", "baseline": "alphabetic", "color": "black"},
             "encoding": {"x": {"datum": -9.38, "type": "quantitative", "scale": {"domain": [0, 50], "nice": false, "zero": false}}, "y": {"datum": 0.5724, "type": "quantitative", "scale": {"domain": [0, 0.5], "nice": false}}, "text": {"field": "letter", "type": "nominal"}}},
            {"data": {"name": "labels"}, "transform": [{"filter": "datum.p === 'D'"}],
             "mark": {"type": "text", "fontSize": 19, "fontWeight": "bold", "fontStyle": "italic", "align": "right", "baseline": "alphabetic", "color": "black"},
             "encoding": {"x": {"datum": 16.8, "type": "quantitative", "scale": {"domain": [0, 50], "nice": false, "zero": false}}, "y": {"datum": 0.5774, "type": "quantitative", "scale": {"domain": [0, 0.5], "nice": false}}, "text": {"field": "gene", "type": "nominal"}}},
            {"data": {"name": "labels"}, "transform": [{"filter": "datum.p === 'D'"}],
             "mark": {"type": "text", "fontSize": 19, "fontWeight": "bold", "align": "left", "baseline": "alphabetic", "color": "black"},
             "encoding": {"x": {"datum": 17.8, "type": "quantitative", "scale": {"domain": [0, 50], "nice": false, "zero": false}}, "y": {"datum": 0.5774, "type": "quantitative", "scale": {"domain": [0, 0.5], "nice": false}}, "text": {"field": "medium", "type": "nominal"}}}
          ]
        }
      ]
    }
  ]
}
